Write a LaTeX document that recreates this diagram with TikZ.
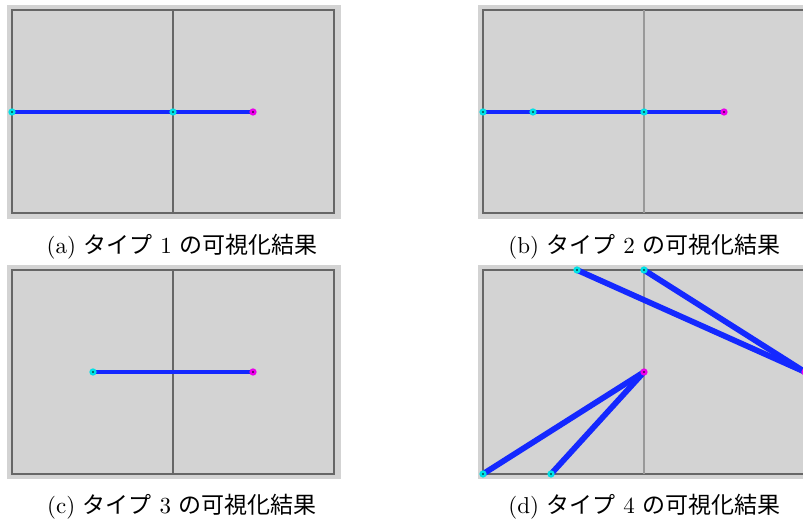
\documentclass[tikz,border=0pt]{standalone}
\usepackage{fontspec}
\newfontfamily\jpfont{Noto Sans CJK JP}
\definecolor{panelgray}{HTML}{D3D3D3}
\definecolor{framegray}{HTML}{666666}
\definecolor{divgray}{HTML}{999999}
\definecolor{segblue}{RGB}{20,40,255}
\definecolor{dotcyan}{RGB}{0,225,230}
\definecolor{dotmagenta}{RGB}{235,0,235}
\begin{document}
\begin{tikzpicture}[
  x=0.4348pt, y=-0.4348pt,
  panel/.style={fill=panelgray},
  frame/.style={draw=framegray, line width=0.5pt},
  divdark/.style={draw=framegray, line width=0.5pt},
  divlight/.style={draw=divgray, line width=0.9pt},
  seg/.style={draw=segblue, line width=2.1pt},
  startpt/.style={circle, draw=dotcyan, fill=black, line width=1.1pt,
                  inner sep=0pt, minimum size=2pt},
  endpt/.style={startpt, draw=dotmagenta},
  subcap/.style={anchor=base, font=\fontsize{10}{12}\selectfont}
]
\clip (0,0) rectangle (803,524);

%% ---- (a) type 1 ----
\fill[panel] (7,5) rectangle (341,219);
\draw[frame] (12,10) rectangle (334,213);
\draw[divdark] (173,10) -- (173,213);
\coordinate (a1) at (12,112);
\coordinate (a2) at (173,112);
\coordinate (a3) at (253,112);
\draw[seg] (a1) -- (a2) -- (a3);
\node[startpt] (a1dot) at (a1) {};
\node[startpt] (a2dot) at (a2) {};
\node[endpt]   (a3dot) at (a3) {};
\node[subcap] (capa) at (182,254) {(a) {\jpfont タイプ} 1 {\jpfont の可視化結果}};

%% ---- (b) type 2 ----
\fill[panel] (478,5) rectangle (812,219);
\draw[frame] (483,10) rectangle (805,213);
\draw[divlight] (644,10) -- (644,213);
\coordinate (b1) at (483,112);
\coordinate (b2) at (533,112);
\coordinate (b3) at (644,112);
\coordinate (b4) at (724,112);
\draw[seg] (b1) -- (b2) -- (b3) -- (b4);
\node[startpt] (b1dot) at (b1) {};
\node[startpt] (b2dot) at (b2) {};
\node[startpt] (b3dot) at (b3) {};
\node[endpt]   (b4dot) at (b4) {};
\node[subcap] (capb) at (644.5,254) {(b) {\jpfont タイプ} 2 {\jpfont の可視化結果}};

%% ---- (c) type 3 ----
\fill[panel] (7,265) rectangle (341,479);
\draw[frame] (12,270) rectangle (334,474);
\draw[divdark] (173,270) -- (173,474);
\coordinate (c1) at (93,372);
\coordinate (c2) at (253,372);
\draw[seg] (c1) -- (c2);
\node[startpt] (c1dot) at (c1) {};
\node[endpt]   (c2dot) at (c2) {};
\node[subcap] (capc) at (182,514) {(c) {\jpfont タイプ} 3 {\jpfont の可視化結果}};

%% ---- (d) type 4 ----
\fill[panel] (478,265) rectangle (812,479);
\draw[frame] (483,270) rectangle (805,474);
\draw[divlight] (644,270) -- (644,474);
\coordinate (d1) at (577,270);
\coordinate (d2) at (644,270);
\coordinate (d3) at (805,372);
\coordinate (d4) at (644,372);
\coordinate (d5) at (483,474);
\coordinate (d6) at (551,474);
\draw[seg, line width=2.5pt] (d1) -- (d3);
\draw[seg, line width=2.5pt] (d2) -- (d3);
\draw[seg, line width=2.5pt] (d5) -- (d4);
\draw[seg, line width=2.5pt] (d6) -- (d4);
\node[startpt] (d1dot) at (d1) {};
\node[startpt] (d2dot) at (d2) {};
\node[endpt]   (d3dot) at (d3) {};
\node[endpt]   (d4dot) at (d4) {};
\node[startpt] (d5dot) at (d5) {};
\node[startpt] (d6dot) at (d6) {};
\node[subcap] (capd) at (644.5,514) {(d) {\jpfont タイプ} 4 {\jpfont の可視化結果}};
\end{tikzpicture}
\end{document}
